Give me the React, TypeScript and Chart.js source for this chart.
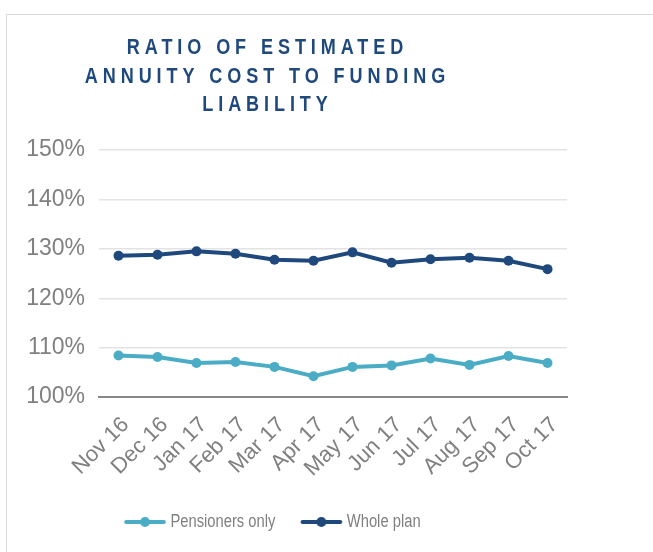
import React, { useEffect, useRef } from "react";
import { Chart, registerables } from "chart.js";

Chart.register(...registerables);

const months = ["Nov 16", "Dec 16", "Jan 17", "Feb 17", "Mar 17", "Apr 17", "May 17", "Jun 17", "Jul 17", "Aug 17", "Sep 17", "Oct 17"];
const pensionersOnly = [108.4, 108.1, 106.9, 107.1, 106.1, 104.2, 106.1, 106.4, 107.8, 106.5, 108.3, 106.9];
const wholePlan = [128.6, 128.8, 129.5, 129.0, 127.8, 127.6, 129.3, 127.2, 127.9, 128.2, 127.6, 125.9];
const seriesNames = ["Pensioners only", "Whole plan"];
const seriesColors = ["#4bacc6", "#1f497d"];
const titleLines = ["RATIO OF ESTIMATED", "ANNUITY COST TO FUNDING", "LIABILITY"];
const yMin = 100;
const yMax = 150;
const yStep = 10;

const SANS = "'Liberation Sans', Arial, sans-serif";
const CONDENSE = 0.82;

// legend symbol: line with a dot, pre-stretched to compensate the condensed legend drawing
function makeMarker(color: string) {
  const c = document.createElement("canvas");
  c.width = 54;
  c.height = 12;
  const g = c.getContext("2d")!;
  g.strokeStyle = color;
  g.lineWidth = 4;
  g.lineCap = "butt";
  g.beginPath();
  g.moveTo(4, 6);
  g.lineTo(50, 6);
  g.stroke();
  g.fillStyle = color;
  g.beginPath();
  g.ellipse(4, 6, 2 / CONDENSE, 2, 0, 0, Math.PI * 2);
  g.ellipse(50, 6, 2 / CONDENSE, 2, 0, 0, Math.PI * 2);
  g.fill();
  g.beginPath();
  g.ellipse(27, 6, 5 / CONDENSE, 5, 0, 0, Math.PI * 2);
  g.fill();
  return c;
}

function condensed(box: any, chart: any, spacing: string, shift: number) {
  const orig = box.draw.bind(box);
  box.draw = (...args: any[]) => {
    const ctx = chart.ctx as any;
    const cx = (box.left + box.right) / 2 + shift;
    ctx.save();
    ctx.letterSpacing = spacing;
    ctx.translate(cx, 0);
    ctx.scale(CONDENSE, 1);
    ctx.translate(-cx, 0);
    orig(...args);
    ctx.restore();
  };
}

// Title and legend are drawn in a condensed face like the original
const condensedText = {
  id: "condensedText",
  afterInit(chart: any) {
    if (chart.titleBlock) {
      const tb = chart.titleBlock;
      const orig = tb.draw.bind(tb);
      tb.draw = (...args: any[]) => {
        const ctx = chart.ctx as any;
        const cx = (tb.left + tb.right) / 2 - 16;
        ctx.save();
        ctx.letterSpacing = "6px";
        ctx.translate(cx, 0);
        ctx.scale(CONDENSE, 1);
        ctx.translate(-cx, 0);
        ctx.translate(-16, 0);
        orig(...args);
        ctx.restore();
      };
    }
    if (chart.legend) condensed(chart.legend, chart, "0px", -54);
  },
};

export default function App() {
  const ref = useRef<HTMLCanvasElement | null>(null);
  useEffect(() => {
    if (!ref.current) return;
    const markers = seriesColors.map(makeMarker);
    const chart = new Chart(ref.current, {
      type: "line",
      data: {
        labels: months,
        datasets: [
          {
            label: seriesNames[0],
            data: pensionersOnly,
            borderColor: seriesColors[0],
            backgroundColor: seriesColors[0],
            pointBackgroundColor: seriesColors[0],
            pointBorderWidth: 0,
            pointRadius: 5,
            borderWidth: 4,
            tension: 0,
          },
          {
            label: seriesNames[1],
            data: wholePlan,
            borderColor: seriesColors[1],
            backgroundColor: seriesColors[1],
            pointBackgroundColor: seriesColors[1],
            pointBorderWidth: 0,
            pointRadius: 5,
            borderWidth: 4,
            tension: 0,
          },
        ],
      },
      options: {
        animation: false,
        responsive: true,
        maintainAspectRatio: false,
        layout: { padding: { top: 14, right: 86, bottom: 19, left: 0 } },
        plugins: {
          title: {
            display: true,
            text: titleLines,
            color: "#1f497d",
            font: { family: SANS, size: 22, weight: "bold", lineHeight: 1.29 },
            padding: { top: 20, bottom: 31 },
          },
          legend: {
            position: "bottom",
            maxHeight: 54,
            labels: {
              usePointStyle: true,
              pointStyleWidth: 44,
              padding: 34,
              color: "#808080",
              font: { family: SANS, size: 18 },
              generateLabels: (ch: any) => {
                const base = Chart.defaults.plugins.legend.labels.generateLabels(ch);
                return base.map((it: any, i: number) => ({ ...it, pointStyle: markers[i] }));
              },
            },
          },
          tooltip: { enabled: false },
        },
        scales: {
          x: {
            offset: true,
            grid: { display: false, drawTicks: false, offset: true },
            border: { display: true, color: "#898989", width: 2 },
            ticks: {
              autoSkip: false,
              color: "#808080",
              font: { family: SANS, size: 22 },
              minRotation: 45,
              maxRotation: 45,
              padding: 15,
              labelOffset: 7,
            },
            afterFit: (s: any) => {
              s.height = 82;
            },
          },
          y: {
            min: yMin,
            max: yMax,
            grid: { color: "#e3e3e3", lineWidth: 1.5, drawTicks: false },
            border: { display: false },
            ticks: {
              stepSize: yStep,
              color: "#808080",
              font: { family: SANS, size: 23 },
              padding: 14,
              callback: (v: any) => `${v}%`,
            },
            afterFit: (s: any) => {
              s.width = 99;
            },
          },
        },
      },
      plugins: [condensedText],
    });
    chart.draw();
    return () => chart.destroy();
  }, []);

  return (
    <div style={{ position: "fixed", left: 0, top: 0, width: 653, height: 552, overflow: "hidden", background: "#fff" }}>
      <div
        style={{
          position: "absolute",
          left: 6,
          top: 14,
          width: 700,
          height: 600,
          border: "1px solid #d9d9d9",
          boxSizing: "border-box",
        }}
      />
      <div style={{ position: "absolute", left: 0, top: 0, width: 653, height: 552 }}>
        <canvas ref={ref} />
      </div>
    </div>
  );
}
